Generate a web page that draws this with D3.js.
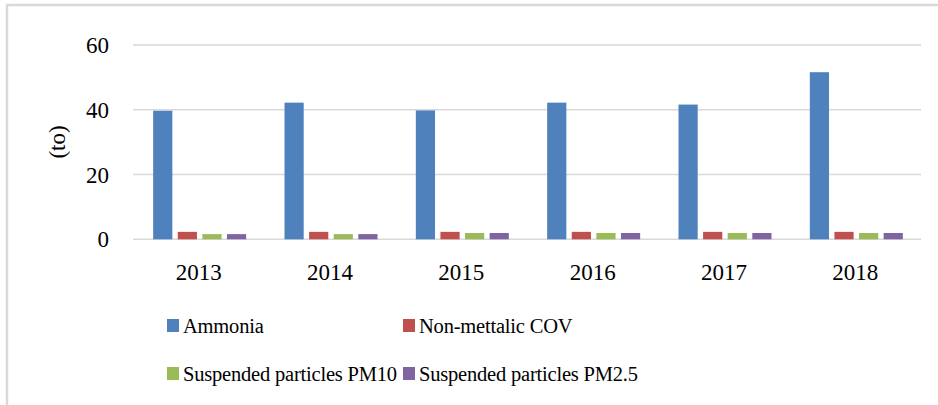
<!DOCTYPE html>
<html>
<head>
<meta charset="utf-8">
<script src="https://cdn.jsdelivr.net/npm/d3@7"></script>
<style>
  body { margin: 0; background: #fff; }
  svg text { font-family: "Liberation Serif", "Times New Roman", serif; fill: #000; }
</style>
</head>
<body>
<div id="chart"></div>
<script>
// DATA
const years = ['2013', '2014', '2015', '2016', '2017', '2018'];
const seriesNames = ['Ammonia', 'Non-mettalic COV', 'Suspended particles PM10', 'Suspended particles PM2.5'];
const ammonia = [39.7, 42.2, 39.8, 42.2, 41.6, 51.6];
const nonMetCov = [2.3, 2.3, 2.3, 2.3, 2.3, 2.3];
const pm10 = [1.6, 1.6, 1.95, 1.95, 1.95, 1.95];
const pm25 = [1.6, 1.6, 1.95, 1.95, 1.95, 1.95];
const yTicks = [0, 20, 40, 60];
const colors = ['#4f81bd', '#c0504d', '#9bbb59', '#8064a2'];

document.addEventListener('DOMContentLoaded', function(){
  drawChart();
});

function drawChart(){
  const W = 938, H = 405;
  const m = { top: 45, left: 133, right: 17, bottom: 166 };

  const svg = d3.select('#chart').append('svg')
                .attr('width', W)
                .attr('height', H);

  // outer chart frame (only top & left edges visible)
  svg.append('rect')
     .attr('x', 7).attr('y', 5)
     .attr('width', W + 20).attr('height', H + 20)
     .style('fill', 'none')
     .style('stroke', '#d9d9d9')
     .style('stroke-width', 2.5);

  const series = [ammonia, nonMetCov, pm10, pm25];

  const x0 = d3.scaleBand()
               .domain(years)
               .range([m.left, W - m.right]);
  const x1 = d3.scaleBand()
               .domain(d3.range(series.length))
               .range([0, 93])
               .paddingInner(0.22);
  const y = d3.scaleLinear()
              .domain([0, 60])
              .range([239.3, 45]);

  // gridlines
  svg.append('g').selectAll('line')
     .data(yTicks).enter()
     .append('line')
       .attr('x1', m.left).attr('x2', W - m.right)
       .attr('y1', d => y(d)).attr('y2', d => y(d))
       .style('stroke', '#d9d9d9')
       .style('stroke-width', 1.5);

  // y tick labels
  svg.append('g').selectAll('text')
     .data(yTicks).enter()
     .append('text')
       .attr('x', 109)
       .attr('y', d => y(d) + 8)
       .attr('text-anchor', 'end')
       .style('font-size', '23px')
       .text(d => d);

  // y title
  svg.append('text')
     .attr('transform', 'translate(65,142) rotate(-90)')
     .attr('text-anchor', 'middle')
     .style('font-size', '23px')
     .text('(to)');

  // bars
  const groups = svg.append('g').selectAll('g')
     .data(years).enter()
     .append('g')
       .attr('transform', d => 'translate(' + (x0(d) + x0.bandwidth() / 2 - 45.5) + ',0)');

  groups.selectAll('rect')
     .data((d, i) => series.map((s, k) => ({ k: k, v: s[i] })))
     .enter()
     .append('rect')
       .attr('x', d => x1(d.k))
       .attr('width', x1.bandwidth())
       .attr('y', d => y(d.v))
       .attr('height', d => y(0) - y(d.v))
       .style('fill', d => colors[d.k]);

  // x labels
  svg.append('g').selectAll('text')
     .data(years).enter()
     .append('text')
       .attr('x', d => x0(d) + x0.bandwidth() / 2)
       .attr('y', 280)
       .attr('text-anchor', 'middle')
       .style('font-size', '23px')
       .text(d => d);

  // legend
  const legPos = [[167, 319], [403, 319], [167, 367], [403, 367]];
  const leg = svg.append('g').selectAll('g')
     .data(seriesNames).enter()
     .append('g')
       .attr('transform', (d, i) => 'translate(' + legPos[i][0] + ',' + legPos[i][1] + ')');
  leg.append('rect')
     .attr('width', 12).attr('height', 13)
     .style('fill', (d, i) => colors[i]);
  leg.append('text')
     .attr('x', 16).attr('y', 14)
     .style('font-size', '20.5px')
     .style('letter-spacing', '-0.2px')
     .text(d => d);
}
</script>
</body>
</html>
